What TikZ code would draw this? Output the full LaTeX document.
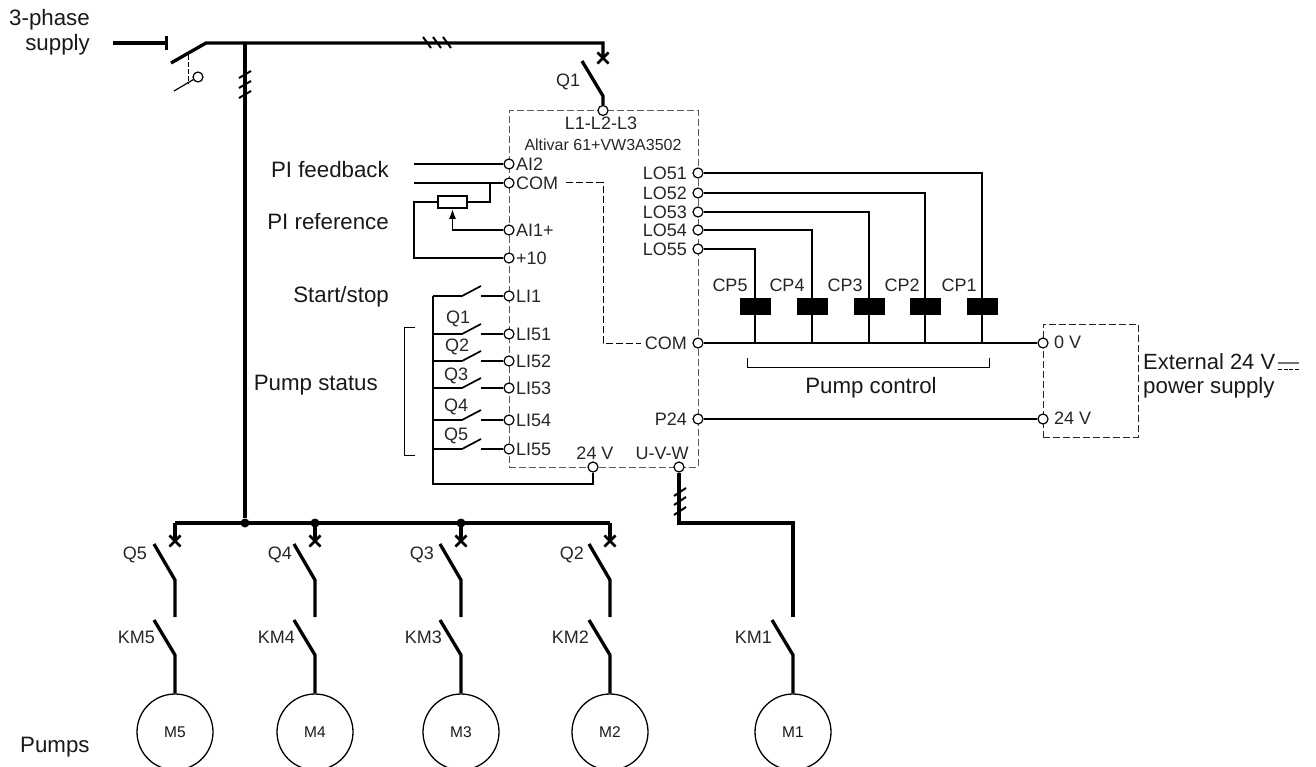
\documentclass[tikz,border=0pt]{standalone}
\usepackage{fontspec}
\setmainfont{Liberation Sans}
\usetikzlibrary{arrows.meta, calc, positioning, shapes.misc}

\begin{document}
\begin{tikzpicture}[
  x=1pt, y=-1pt,
  lbl/.style={inner sep=0pt, text=black!85, font=\fontsize{18}{20}\selectfont},
  big/.style={inner sep=0pt, text=black!90, align=right, font=\fontsize{22.3}{25}\selectfont},
  power/.style={line width=3.3pt},
  wire/.style={line width=1.7pt},
  slash/.style={line width=2pt},
  term/.style={circle, draw, fill=white, line width=1.2pt, inner sep=0pt, minimum size=10pt},
  brk/.style={cross out, draw, line width=2.6pt, inner sep=0pt, minimum size=8.5pt},
  dot/.style={circle, fill=black, inner sep=0pt, minimum size=9pt},
  coil/.style={fill=black, inner sep=0pt, minimum width=31pt, minimum height=17pt},
  pot/.style={draw, line width=1.7pt, inner sep=0pt, minimum width=29pt, minimum height=12pt},
  motor/.style={circle, draw, fill=white, line width=1.3pt, inner sep=0pt, minimum size=76pt, text=black!90, font=\fontsize{15.5}{17}\selectfont},
  dbox/.style={draw, dash pattern=on 7pt off 3pt, line width=1pt, inner sep=0pt, outer sep=0pt, anchor=north west}
]
\useasboundingbox (0,0) rectangle (1316,767);

% Boxes
\node[dbox, draw=black!65, minimum width=189pt, minimum height=356.5pt] (drive) at (509,110.5) {};
\node[dbox, draw=black!85, minimum width=95pt, minimum height=113pt] (psu) at (1043,324) {};

% Supply
\node[big] (supply) at (49.5,32) {3-phase\\supply};
\coordinate (feed) at (113,43);
\coordinate (isol) at (168,43);
\coordinate (isolout) at (171,63);
\coordinate (isolin) at (206,43);
\coordinate (topright) at (603,43);
\coordinate (busjoin) at (245,43);
\node[brk] (brkq1) at (603,58) {};
\draw[power, -{Bar[width=14pt]}] (feed) -- (isol);
\draw[power] (isolout) -- (isolin) -- (topright) -- (brkq1.center);

% Auxiliary contact
\coordinate (auxa) at (174,91);
\coordinate (auxb) at (193.5,79.5);
\node[term] (auxc) at (198,77) {};
\coordinate (auxd) at (188,55);
\coordinate (auxe) at (188,84);
\draw[line width=1.2pt] (auxa) -- (auxb);
\draw[line width=1pt, dash pattern=on 5pt off 2pt] (auxd) -- (auxe);

% Slashes on the lines
\foreach \x in {423,433,443}
  \draw[slash] (\x,37) -- (\x+8,48);
\foreach \y in {78,88,98}
  \draw[slash] (239,\y) -- (251,\y-7);
\foreach \y in {496,505,515}
  \draw[slash] (674,\y) -- (686,\y-8);

% Q1
\node[term] (l123) at (603,110.5) {};
\node[lbl] (q1) at (568,82) {Q1};
\coordinate (q1top) at (582,61);
\coordinate (q1piv) at (603,96);
\draw[power] (q1top) -- (q1piv) -- (l123);
\node[lbl] (l123lab) at (601,123) {L1-L2-L3};
\node[lbl, font=\fontsize{16}{17}\selectfont] (altivar) at (603,145) {Altivar 61+VW3A3502};

% Left terminals
\foreach \n/\y/\t in {ai2/164/AI2, coml/183/COM, ai1/230/AI1+, ten/258/+10, li1/296/LI1, li51/334/LI51, li52/361/LI52, li53/388/LI53, li54/420/LI54, li55/449/LI55} {
  \node[term] (\n) at (509,\y) {};
  \node[lbl, anchor=west] (lab\n) at (516,\y) {\t};
}

% Right terminals
\foreach \n/\y/\t in {lo51/173/LO51, lo52/193/LO52, lo53/212/LO53, lo54/230/LO54, lo55/249/LO55, comr/343/COM, p24/419/P24} {
  \node[term] (\n) at (698,\y) {};
  \node[lbl, anchor=east] (lab\n) at (687,\y) {\t};
}

% Bottom terminals
\node[term] (t24) at (593,467) {};
\node[lbl] (labt24) at (595,453) {24 V};
\node[term] (uvw) at (679,467) {};
\node[lbl] (labuvw) at (662,453) {U-V-W};

% Left labels
\node[big, anchor=east] (pifb) at (389,170) {PI feedback};
\node[big, anchor=east] (piref) at (389,222) {PI reference};
\node[big, anchor=east] (startstop) at (389,297) {Start/stop};
\node[big, anchor=east] (pumpst) at (378,385) {Pump status};
\node[big, anchor=west] (pumps) at (20,747) {Pumps};

% Analog inputs
\coordinate (ai2in) at (414,164);
\coordinate (comin) at (414,183);
\coordinate (potjoin) at (490,183);
\coordinate (potleft) at (414,202);
\node[pot] (potm) at (452.5,202) {};
\draw[wire] (ai2in) -- (ai2);
\draw[wire] (comin) -- (coml);
\draw[wire] (potjoin) |- (potm.east);
\draw[wire] (potm.west) -- (potleft) |- (ten);
\draw[wire, -{Latex[length=10pt,width=7pt]}] (ai1) -| (potm.south);

% Logic inputs
\foreach \n/\y in {1/296, 51/334, 52/361, 53/388, 54/420, 55/449} {
  \coordinate (rail\n) at (433,\y);
  \coordinate (cin\n) at (462,\y);
  \coordinate (ctop\n) at (481,\y-10);
  \coordinate (cout\n) at (481,\y);
  \draw[wire] (rail\n) -- (cin\n) -- (ctop\n);
  \draw[wire] (cout\n) -- (li\n);
}
\coordinate (railend) at (433,484);
\draw[wire] (rail1) -- (railend) -| (t24);
\foreach \n/\x/\y in {1/458/319, 2/457/347, 3/456/376, 4/456/407, 5/456/436}
  \node[lbl] (qc\n) at (\x,\y) {Q\n};
\draw[line width=1pt] (415,327) -- (404.5,327) -- (404.5,455) -- (415,455);

% Pump control
\foreach \n/\m/\x/\cx in {5/55/755/730, 4/54/812/787, 3/53/869/845, 2/52/925/902, 1/51/982/959} {
  \node[coil] (cp\n) at (\x,306.5) {};
  \node[lbl] (cplab\n) at (\cx,285) {CP\n};
  \coordinate (cpend\n) at (\x,343);
  \draw[wire] (lo\m) -| (cp\n);
  \draw[wire] (cp\n) -- (cpend\n);
}
\draw[line width=1pt] (747,358) -- (747,367) -- (989,367) -- (989,358);
\node[big] (pumpctl) at (871,388) {Pump control};

% External supply
\node[term] (zerov) at (1043,343) {};
\node[lbl, anchor=west] (labzerov) at (1054,342) {0 V};
\node[term] (v24) at (1043,419) {};
\node[lbl, anchor=west] (labv24) at (1054,418) {24 V};
\draw[wire] (comr) -- (zerov);
\draw[wire] (p24) -- (v24);
\node[big, anchor=west, font=\fontsize{22}{25}\selectfont] (extlab) at (1143,362) {External 24 V};
\node[big, anchor=west] (pwrlab) at (1143,388) {power supply};
\draw[line width=1.3pt, black!55] (1278,363) -- (1299,363);
\draw[line width=1pt, dash pattern=on 4pt off 1.5pt] (1278,369) -- (1299,369);

% Dashed COM link
\coordinate (comstart) at (566,183);
\coordinate (comcorner) at (603,183);
\coordinate (comdown) at (603,343);
\draw[line width=1pt, dash pattern=on 7pt off 3pt] (comstart) -- (comcorner) -- (comdown) -- ([xshift=-4pt]labcomr.west);

% Bus
\coordinate (busl) at (175,523);
\coordinate (busr) at (610,523);
\foreach \x in {245,315,461}
  \node[dot] (dot\x) at (\x,523) {};
\draw[power] (busjoin) -- (dot245);
\draw[power, line width=3.6pt] (busl) -- (busr);

% Pump branches
\foreach \n/\x/\qx/\kx in {5/175/147/155, 4/315/292/295, 3/461/434/442, 2/610/584/589} {
  \coordinate (bus\n) at (\x,523);
  \node[brk] (brk\n) at (\x,541) {};
  \node[lbl, anchor=east] (q\n) at (\qx,555) {Q\n};
  \node[lbl, anchor=east] (km\n) at (\kx,637) {KM\n};
  \node[motor] (m\n) at (\x,732) {M\n};
  \coordinate (qtop\n) at (\x-21,544);
  \coordinate (qpiv\n) at (\x,580);
  \coordinate (qend\n) at (\x,617);
  \coordinate (ktop\n) at (\x-21,620);
  \coordinate (kpiv\n) at (\x,655);
  \draw[power] (bus\n) -- (brk\n.center);
  \draw[power] (qtop\n) -- (qpiv\n) -- (qend\n);
  \draw[power] (ktop\n) -- (kpiv\n) -- (m\n);
}

% Pump 1
\coordinate (m1corner) at (679,523);
\coordinate (m1right) at (793,523);
\coordinate (m1end) at (793,617);
\coordinate (km1top) at (772,620);
\coordinate (km1piv) at (793,655);
\node[motor] (m1) at (793,732) {M1};
\node[lbl, anchor=east] (km1) at (772,637) {KM1};
\draw[power] (uvw) -- (m1corner) -- (m1right) -- (m1end);
\draw[power] (km1top) -- (km1piv) -- (m1);

\end{tikzpicture}
\end{document}
